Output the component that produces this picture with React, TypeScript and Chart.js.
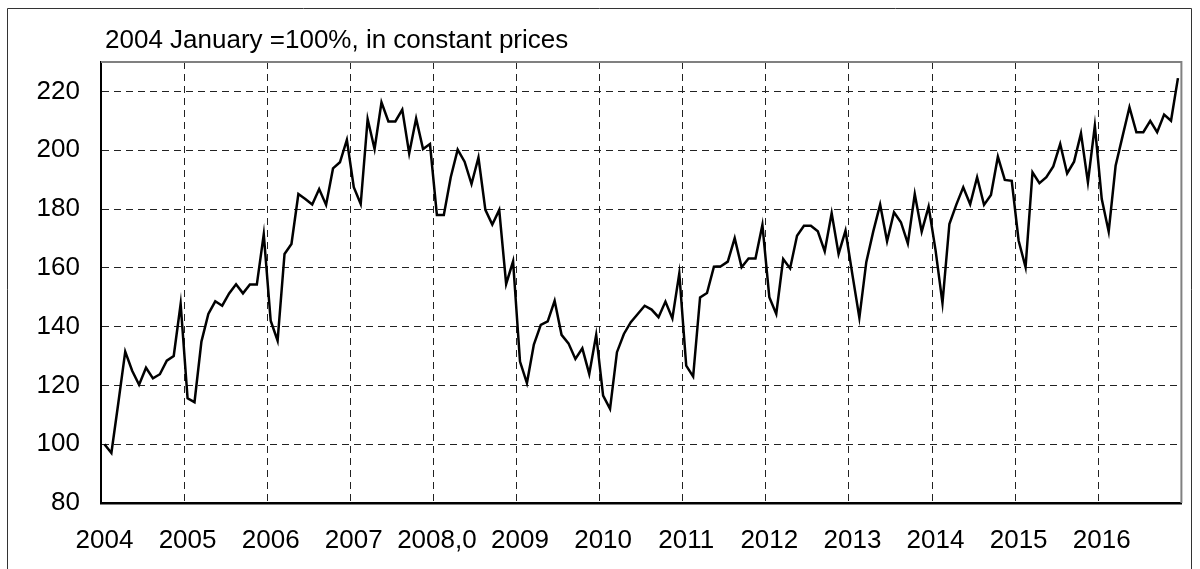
import React, { useEffect, useRef } from 'react';
import { Chart, registerables } from 'chart.js';

Chart.register(...registerables);

const chartTitle = '2004 January =100%, in constant prices';
const yearLabels = ['2004', '2005', '2006', '2007', '2008,0', '2009', '2010', '2011', '2012', '2013', '2014', '2015', '2016'];
const yTickValues = [80, 100, 120, 140, 160, 180, 200, 220];

const values2004 = [100, 97, 114, 131.5, 125, 120.2, 126, 122.4, 123.8, 128.4, 130, 147.7];
const values2005 = [115.6, 114.3, 134.9, 144.3, 148.6, 147.1, 151.3, 154.4, 151.3, 154.3, 154.3, 171.4];
const values2006 = [142, 135.2, 164.7, 168.1, 185.1, 183.4, 181.5, 186.8, 181.4, 193.8, 195.9, 203.5];
const values2007 = [187.4, 181.7, 210.6, 200.4, 216.3, 209.8, 209.8, 213.8, 198.9, 210.8, 200.4, 202.1];
const values2008 = [178, 178, 190.8, 200.2, 196.1, 188.5, 197.5, 179.7, 174.7, 179.7, 154.5, 162.2];
const values2009 = [128.1, 120.8, 133.9, 140.6, 141.8, 148.8, 137.2, 134.3, 129, 132.6, 123.9, 137.2];
const values2010 = [116.5, 112, 131.3, 137.5, 141.5, 144.3, 147.1, 145.8, 143.2, 148.5, 142.8, 158.1];
const values2011 = [126.7, 123, 149.9, 151.4, 160.4, 160.5, 162.1, 170.1, 160.2, 163.2, 163.2, 174.6];
const values2012 = [150, 144.3, 163, 159.8, 170.9, 174.3, 174.3, 172.4, 165.6, 178.6, 164.7, 172.6];
const values2013 = [157.6, 143, 161.9, 172.3, 181.5, 169, 178.9, 175.5, 168.3, 185.1, 172.3, 180.8];
const values2014 = [166, 148, 174.9, 181.5, 187.4, 181.6, 190.8, 181.4, 184.8, 197.8, 189.9, 189.6];
const values2015 = [169.2, 160.2, 192.5, 188.8, 190.8, 194.5, 202.1, 192.1, 196.1, 205.7, 189.1, 208.3];
const values2016 = [183.4, 172.3, 194.7, 204.7, 214.6, 206.1, 206.1, 210, 206.1, 212.1, 210, 224.5];

const values = [
  ...values2004, ...values2005, ...values2006, ...values2007, ...values2008,
  ...values2009, ...values2010, ...values2011, ...values2012, ...values2013,
  ...values2014, ...values2015, ...values2016,
];

const monthLabels = values.map((_, i) => `${yearLabels[Math.floor(i / 12)]}-${(i % 12) + 1}`);

const FONT = '"Liberation Sans", Arial, Helvetica, sans-serif';
const FONT_SIZE = 26;

const framePlugin = {
  id: 'framePlugin',
  afterDraw(chart: any) {
    const { ctx, chartArea } = chart;
    ctx.save();
    // outer frame
    ctx.strokeStyle = '#333';
    ctx.lineWidth = 1;
    ctx.beginPath();
    ctx.moveTo(7.5, 600);
    ctx.lineTo(7.5, 8.5);
    ctx.lineTo(1191.5, 8.5);
    ctx.lineTo(1191.5, 600);
    ctx.stroke();
    // plot top/right border
    ctx.strokeStyle = '#808080';
    ctx.lineWidth = 2;
    ctx.beginPath();
    ctx.moveTo(chartArea.left, chartArea.top);
    ctx.lineTo(chartArea.right, chartArea.top);
    ctx.lineTo(chartArea.right, chartArea.bottom);
    ctx.stroke();
    // title
    ctx.fillStyle = '#000';
    ctx.font = `${FONT_SIZE}px ${FONT}`;
    ctx.textAlign = 'left';
    ctx.textBaseline = 'alphabetic';
    ctx.fillText(chartTitle, 105, 48);
    ctx.restore();
  },
};

export default function App() {
  const canvasRef = useRef<HTMLCanvasElement | null>(null);

  useEffect(() => {
    if (!canvasRef.current) return;
    const chart = new Chart(canvasRef.current, {
      type: 'line',
      data: {
        labels: monthLabels,
        datasets: [
          {
            data: values,
            borderColor: '#000',
            borderWidth: 2.5,
            pointRadius: 0,
            tension: 0,
            fill: false,
          },
        ],
      },
      options: {
        animation: false,
        responsive: true,
        maintainAspectRatio: false,
        layout: { padding: { top: 62, right: 18, left: 0, bottom: 0 } },
        plugins: {
          legend: { display: false },
          tooltip: { enabled: false },
          title: { display: false },
        },
        scales: {
          x: {
            type: 'category',
            offset: true,
            afterFit: (scale: any) => {
              scale.height = 66;
            },
            grid: {
              offset: true,
              drawTicks: false,
              lineWidth: 1,
              color: (ctx: any) => (typeof ctx.index === 'number' && ctx.index % 12 === 0 && ctx.index > 0 ? '#222' : 'transparent'),
            },
            border: { display: true, color: '#000', width: 2.5, dash: [7, 5] },
            ticks: {
              autoSkip: false,
              maxRotation: 0,
              minRotation: 0,
              padding: 22,
              color: '#000',
              font: { family: FONT, size: FONT_SIZE },
              callback: (_v: any, i: number) => (i % 12 === 0 ? yearLabels[i / 12] : ''),
            },
          },
          y: {
            type: 'linear',
            min: 80,
            max: 230,
            afterFit: (scale: any) => {
              scale.width = 101;
            },
            grid: {
              drawTicks: false,
              lineWidth: 1,
              color: (ctx: any) => (ctx.tick && ctx.tick.value > 80 ? '#222' : 'transparent'),
            },
            border: { display: true, color: '#000', width: 2, dash: [7, 5] },
            ticks: {
              stepSize: 20,
              includeBounds: false,
              padding: 21,
              color: '#000',
              font: { family: FONT, size: FONT_SIZE },
            },
            afterBuildTicks: (scale: any) => {
              scale.ticks = yTickValues.map((v) => ({ value: v }));
            },
          },
        },
      },
      plugins: [framePlugin],
    });
    return () => chart.destroy();
  }, []);

  return (
    <div style={{ position: 'fixed', left: 0, top: 0, width: 1200, height: 569, background: '#fff' }}>
      <canvas ref={canvasRef} />
    </div>
  );
}
